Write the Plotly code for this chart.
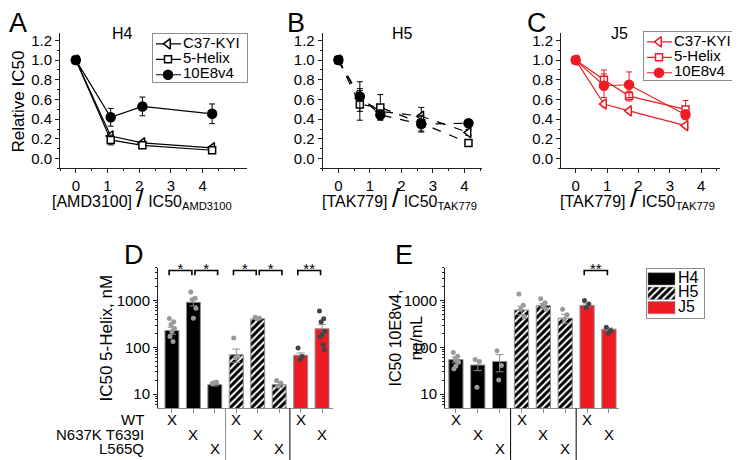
import plotly.graph_objects as go

# page body has an 8px margin, so the figure is placed at (8, 8) in the window
W, H = 732, 452
OFF = 8
FONT = "Liberation Sans, Arial, sans-serif"
RED = "#ED1C24"
GREY = "#8c8c8c"

# ---- A-C: relative IC50 vs coreceptor antagonist dose ----
names = ["C37-KYI", "5-Helix", "10E8v4"]

x_h4 = [0, 1.1, 2.1, 4.3]
c37_h4 = [1.0, 0.23, 0.16, 0.11]
c37_h4_err = [0.0, 0.03, 0.015, 0.01]
helix_h4 = [1.0, 0.19, 0.135, 0.085]
helix_h4_err = [0.0, 0.05, 0.02, 0.01]
e8_h4 = [1.0, 0.42, 0.53, 0.455]
e8_h4_err = [0.0, 0.09, 0.095, 0.1]

x_h5 = [0, 0.68, 1.33, 2.63, 4.13]
c37_h5 = [1.0, 0.61, 0.48, 0.43, 0.265]
c37_h5_err = [0.0, 0.08, 0.05, 0.09, 0.03]
helix_h5 = [1.0, 0.55, 0.52, 0.36, 0.16]
helix_h5_err = [0.0, 0.16, 0.13, 0.08, 0.02]
e8_h5 = [1.0, 0.63, 0.445, 0.35, 0.36]
e8_h5_err = [0.0, 0.15, 0.05, 0.08, 0.03]

x_j5 = [0, 0.9, 1.7, 3.5]
c37_j5 = [1.0, 0.555, 0.485, 0.335]
c37_j5_err = [0.0, 0.03, 0.02, 0.02]
helix_j5 = [1.0, 0.80, 0.635, 0.50]
helix_j5_err = [0.0, 0.1, 0.05, 0.09]
e8_j5 = [1.0, 0.74, 0.75, 0.445]
e8_j5_err = [0.0, 0.12, 0.13, 0.05]

# ---- D/E: IC50 per strain / Env mutation ----
strains = ["H4", "H5", "J5"]
bar_pos = [1, 2, 3, 4, 5, 6, 7, 8]
strain = ["H4", "H4", "H4", "H5", "H5", "H5", "J5", "J5"]
mutation = ["WT", "N637K T639I", "L565Q", "WT", "N637K T639I", "L565Q", "WT", "N637K T639I"]
row_labels = ["WT", "N637K T639I", "L565Q"]

helix_ic50 = [230, 920, 16, 70, 410, 16, 68, 250]
helix_ic50_err = [40, 150, 1, 22, 15, 2, 8, 60]
helix_pts = [
    [417, 355, 310, 253, 218, 170, 134],
    [1520, 1120, 1050, 690, 420],
    [17, 18, 17.5],
    [158, 65, 60],
    [440, 420, 410],
    [19.6, 17.4, 14.8],
    [97, 64, 55],
    [600, 407, 355, 218, 186, 170, 114, 89],
]
helix_sig = [(1, 2, "*"), (2, 3, "*"), (4, 5, "*"), (5, 6, "*"), (7, 8, "**")]

e8_ic50 = [55, 42, 50, 630, 780, 420, 790, 245]
e8_ic50_err = [8, 10, 20, 130, 100, 90, 60, 15]
e8_pts = [
    [78, 65, 55, 48, 40, 35],
    [55, 50, 14],
    [85, 41, 20],
    [1380, 800, 650, 450],
    [1100, 900, 800, 650],
    [650, 500, 400],
    [1000, 850, 700],
    [270, 230, 200],
]
e8_sig = [(7, 8, "**")]


def px(v):
    return (v - OFF) / W


def py(v):
    return 1 - (v - OFF) / H


fig = go.Figure()

symbols = ["triangle-left", "square", "circle"]
sizes = [9, 7, 9]


def mstyle(k, color):
    fill = color if symbols[k] == "circle" else "white"
    return dict(symbol=symbols[k], size=sizes[k], color=fill, line=dict(color=color, width=1.5))


def add_curves(x, ys, errs, color, dash, xa, ya):
    for k in range(3):
        fig.add_trace(go.Scatter(
            x=x, y=ys[k], name=names[k], mode="lines+markers",
            error_y=dict(type="data", array=errs[k], color=color, thickness=1, width=3),
            line=dict(color=color, width=1.2, dash=dash), marker=mstyle(k, color),
            xaxis=xa, yaxis=ya, showlegend=False))


def add_curve_legend(color, xa, ya):
    # hand-built key: one category row per series inside a boxed mini-axis
    for k in range(3):
        fig.add_trace(go.Scatter(x=[3, 28], y=[names[k]] * 2, mode="lines",
                                 line=dict(color=color, width=1.2), xaxis=xa, yaxis=ya,
                                 showlegend=False))
        fig.add_trace(go.Scatter(x=[15], y=[names[k]], mode="markers", marker=mstyle(k, color),
                                 xaxis=xa, yaxis=ya, showlegend=False))
        fig.add_trace(go.Scatter(x=[30], y=[names[k]], mode="text", text=[names[k]],
                                 textposition="middle right", cliponaxis=False,
                                 textfont=dict(size=15, color="black"),
                                 xaxis=xa, yaxis=ya, showlegend=False))


add_curves(x_h4, [c37_h4, helix_h4, e8_h4], [c37_h4_err, helix_h4_err, e8_h4_err],
           "black", "solid", "x", "y")
add_curves(x_h5, [c37_h5, helix_h5, e8_h5], [c37_h5_err, helix_h5_err, e8_h5_err],
           "black", "dash", "x2", "y2")
add_curves(x_j5, [c37_j5, helix_j5, e8_j5], [c37_j5_err, helix_j5_err, e8_j5_err],
           RED, "solid", "x3", "y3")
add_curve_legend("black", "x6", "y6")
add_curve_legend(RED, "x7", "y7")

strain_style = {
    "H4": dict(color="black"),
    "H5": dict(color="white", pattern=dict(shape="/", fgcolor="black", bgcolor="white",
                                          fgopacity=1, size=5, solidity=0.6)),
    "J5": dict(color=RED),
}
jit = [-0.12, 0.08, -0.04, 0.12, 0.0, -0.09, 0.05, 0.1]


def add_bars(vals, errs, pts, sig, xa, ya):
    for s in strains:
        idx = [i for i in range(len(bar_pos)) if strain[i] == s]
        fig.add_trace(go.Bar(
            x=[bar_pos[i] for i in idx], y=[vals[i] for i in idx], name=s, width=0.65,
            marker=dict(**strain_style[s], line=dict(color=GREY, width=1)),
            error_y=dict(type="data", array=[errs[i] for i in idx], color=GREY,
                         thickness=1, width=4),
            xaxis=xa, yaxis=ya, showlegend=False))
    for i, p in enumerate(pts):
        fig.add_trace(go.Scatter(
            x=[bar_pos[i] + jit[k % len(jit)] for k in range(len(p))], y=p, mode="markers",
            marker=dict(size=5, color="#444" if strain[i] == "J5" else "#9a9a9a"),
            xaxis=xa, yaxis=ya, showlegend=False))
    ends = [b for a, b, _ in sig]
    for a, b, star in sig:
        if a in ends:       # chained bracket: starts just right of the shared bar
            lo, hi = a + 0.07, b + 0.13
        else:
            lo, hi = a - 0.13, b - 0.07
        fig.add_trace(go.Scatter(
            x=[lo, lo, hi, hi], y=[3500, 4400, 4400, 3500],
            mode="lines", line=dict(color="black", width=1.6), cliponaxis=False,
            xaxis=xa, yaxis=ya, showlegend=False))
        fig.add_trace(go.Scatter(
            x=[(lo + hi) / 2], y=[4400], mode="text", text=[star], cliponaxis=False,
            textposition="middle center", textfont=dict(size=15, color="black"),
            xaxis=xa, yaxis=ya, showlegend=False))


add_bars(helix_ic50, helix_ic50_err, helix_pts, helix_sig, "x4", "y4")
add_bars(e8_ic50, e8_ic50_err, e8_pts, e8_sig, "x5", "y5")

# strain key for E: short horizontal bars in a boxed mini-axis
for s in strains:
    fig.add_trace(go.Bar(y=[s], x=[27], base=[1], orientation="h", width=0.85,
                         marker=dict(**strain_style[s], line=dict(color=GREY, width=0.5)),
                         xaxis="x8", yaxis="y8", showlegend=False))
    fig.add_trace(go.Scatter(x=[31], y=[s], mode="text", text=[s], cliponaxis=False,
                             textposition="middle right", textfont=dict(size=16, color="black"),
                             xaxis="x8", yaxis="y8", showlegend=False))

ax_common = dict(showline=True, linecolor="#222", linewidth=1, ticks="outside",
                 tickcolor="#222", ticklen=4, showgrid=False, zeroline=False,
                 tickfont=dict(size=15, color="black"))
ydom_top = [py(167.2), py(31.6)]
ydom_bot = [py(408), py(267)]

rel_y = dict(ax_common, range=[-0.1, 1.27], tick0=0, dtick=0.2, tickformat=".1f",
             minor=dict(ticks="outside", ticklen=2, tick0=0, dtick=0.1, tickcolor="#222"),
             domain=ydom_top)
dose_x = dict(ax_common, tickmode="array", tickvals=[0, 1, 2, 3, 4],
              minor=dict(ticks="outside", ticklen=2, tick0=0, dtick=0.5, tickcolor="#222"))

minor_log = [m * 10 ** d for d in range(0, 4) for m in range(2, 10)]
log_y = dict(ax_common, type="log", range=[0.7, 3.7], tickvals=[10, 100, 1000],
             ticktext=["10", "100", "1000"], domain=ydom_bot,
             minor=dict(ticks="outside", ticklen=2, tickvals=minor_log, tickcolor="#222"))
bar_x = dict(ax_common, tickvals=bar_pos, showticklabels=False, linecolor=GREY,
             tickcolor=GREY)

key_ax = dict(showline=True, mirror=True, linecolor=GREY, linewidth=1, ticks="",
              showticklabels=False, showgrid=False, zeroline=False, fixedrange=True)

fig.update_layout(
    width=W, height=H, margin=dict(l=0, r=0, t=0, b=0),
    paper_bgcolor="white", plot_bgcolor="white",
    font=dict(family=FONT, color="black", size=14),
    barmode="overlay", showlegend=False,
    xaxis=dict(dose_x, range=[-0.5, 5.4], domain=[px(60), px(247)], anchor="y"),
    yaxis=dict(rel_y, anchor="x"),
    xaxis2=dict(dose_x, range=[-0.5, 4.55], domain=[px(322.7), px(481.7)], anchor="y2"),
    yaxis2=dict(rel_y, anchor="x2"),
    xaxis3=dict(dose_x, range=[-0.47, 4.6], domain=[px(561), px(720)], anchor="y3"),
    yaxis3=dict(rel_y, anchor="x3"),
    xaxis4=dict(bar_x, range=[0.35, 8.51], domain=[px(158), px(333)], anchor="y4"),
    yaxis4=dict(log_y, anchor="x4"),
    xaxis5=dict(bar_x, range=[0.5, 8.46], domain=[px(445), px(619)], anchor="y5"),
    yaxis5=dict(log_y, anchor="x5"),
    # keys
    xaxis6=dict(key_ax, range=[0, 94], domain=[px(153), px(247)], anchor="y6"),
    yaxis6=dict(key_ax, type="category", categoryorder="array", categoryarray=names,
                range=[2.45, -0.645], domain=[py(80), py(32)], anchor="x6"),
    xaxis7=dict(key_ax, range=[0, 94], domain=[px(644), px(738)], anchor="y7"),
    yaxis7=dict(key_ax, type="category", categoryorder="array", categoryarray=names,
                range=[2.45, -0.645], domain=[py(78), py(30)], anchor="x7"),
    xaxis8=dict(key_ax, range=[0, 57], domain=[px(647), px(704)], anchor="y8"),
    yaxis8=dict(key_ax, type="category", categoryorder="array", categoryarray=strains,
                range=[2.69, -0.69], domain=[py(317), py(268)], anchor="x8"),
)

ann = []


def text(x, y, s, size, xanchor="center", **kw):
    ann.append(dict(x=px(x), y=py(y), xref="paper", yref="paper", text=s, showarrow=False,
                    xanchor=xanchor, yanchor="middle",
                    font=dict(size=size, color="black"), **kw))


for letter, x, y in [("A", 18, 21), ("B", 296, 21), ("C", 537, 21), ("D", 134, 254),
                     ("E", 404, 254)]:
    text(x, y, letter, 27)
for t, x in [("H4", 122), ("H5", 402), ("J5", 619)]:
    text(x, 32, t, 16)

slash = "<span style='font-size:26px'>/</span>"
text(142, 197, "[AMD3100] " + slash + " IC50<sub>AMD3100</sub>", 16)
text(399, 197, "[TAK779] " + slash + " IC50<sub>TAK779</sub>", 16)
text(637, 197, "[TAK779] " + slash + " IC50<sub>TAK779</sub>", 16)
text(19, 100, "Relative IC50", 17, textangle=-90)
text(107, 338, "IC50 5-Helix, nM", 17, textangle=-90)
text(406, 338, "IC50 10E8v4,<br>ng/mL", 16, textangle=-90)

row_y = {"WT": 419, "N637K T639I": 434, "L565Q": 448}
for r in row_labels:
    text(146, row_y[r], r, 15, xanchor="right")
for xa in ["x4", "x5"]:
    for i in range(len(bar_pos)):
        ann.append(dict(x=bar_pos[i], xref=xa, y=py(row_y[mutation[i]]), yref="paper",
                        text="X", showarrow=False, xanchor="center", yanchor="middle",
                        font=dict(size=15, color="black")))

shapes = []
for xa, cols in [("x4", [GREY, "black"]), ("x5", ["black", "black"])]:
    for xv, c in zip([3.5, 6.5], cols):
        shapes.append(dict(type="line", xref=xa, yref="paper", x0=xv, x1=xv,
                           y0=py(408), y1=0, line=dict(color=c, width=1)))

fig.update_layout(annotations=ann, shapes=shapes)

fig.write_html("out.html")
